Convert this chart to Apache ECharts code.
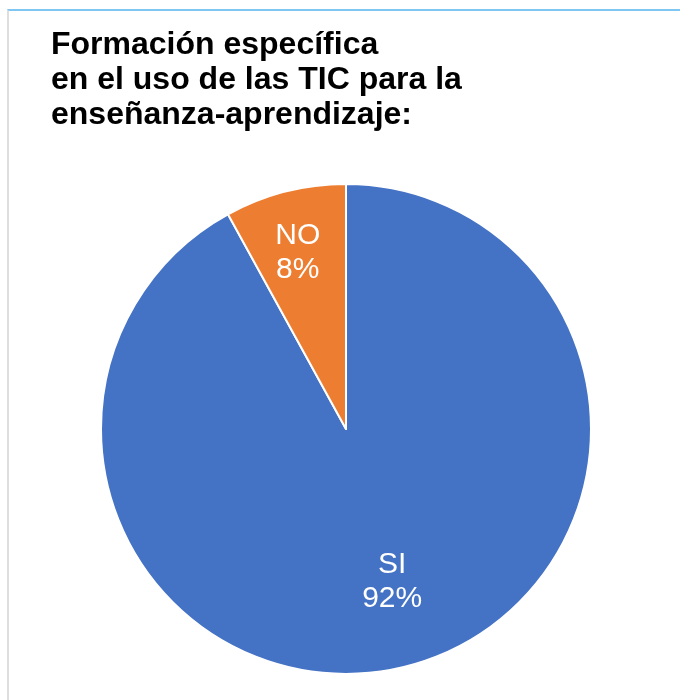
<!DOCTYPE html>
<html>
<head>
<meta charset="utf-8">
<script src="https://cdn.jsdelivr.net/npm/echarts@6/dist/echarts.min.js"></script>
<style>
  html, body { margin: 0; padding: 0; background: #fff; }
  #frame { position: absolute; left: 7px; top: 9px; width: 680px; height: 700px;
           border-top: 2px solid #7fc7f2; border-left: 2px solid #dedede; }
  #chart { position: absolute; left: 0; top: 0; width: 680px; height: 700px; }
</style>
</head>
<body>
<div id="frame"></div>
<div id="chart"></div>
<script>
// datos del gráfico
const titleLines = ["Formación específica", "en el uso de las TIC para la", "enseñanza-aprendizaje:"];
const categories = ["SI", "NO"];
const values = [92, 8];
const colors = ["#4472c4", "#ed7d31"];
// desplazamiento de etiquetas (estilo)
const labelOffsets = [[15, 31], [-17, -55]];

const chartDom = document.getElementById("chart");
const myChart = echarts.init(chartDom);

const option = {
  animation: false,
  title: {
    text: titleLines.join("\n"),
    left: 46,
    top: 23,
    textStyle: {
      fontFamily: "Liberation Sans",
      fontSize: 32,
      fontWeight: "bold",
      color: "#000",
      lineHeight: 35,
    },
  },
  series: [
    {
      type: "pie",
      center: [346, 429],
      radius: 245,
      startAngle: 90,
      clockwise: true,
      itemStyle: { borderColor: "#fff", borderWidth: 2 },
      label: {
        position: "inside",
        formatter: "{b}\n{d}%",
        color: "#fff",
        fontFamily: "Liberation Sans",
        fontSize: 30,
        lineHeight: 34,
      },
      labelLine: { show: false },
      emphasis: { disabled: true },
      data: categories.map((name, i) => ({
        name: name,
        value: values[i],
        itemStyle: { color: colors[i] },
        label: { offset: labelOffsets[i] },
      })),
    },
  ],
};

option && myChart.setOption(option);
</script>
</body>
</html>
